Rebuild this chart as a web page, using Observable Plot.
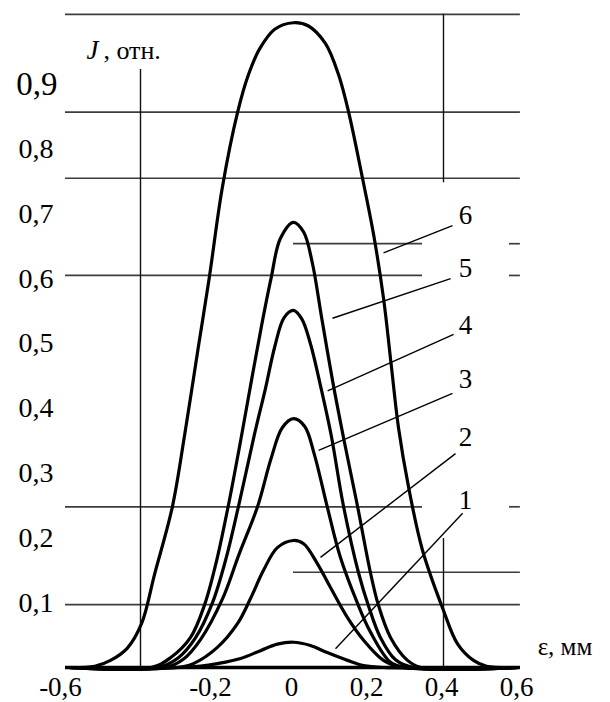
<!DOCTYPE html>
<html>
<head>
<meta charset="utf-8">
<script src="https://cdn.jsdelivr.net/npm/d3@7"></script>
<script src="https://cdn.jsdelivr.net/npm/@observablehq/plot@0.6"></script>
<style>
  html, body { margin: 0; padding: 0; background: #fff; }
  #chart svg { display: block; }
  #chart svg text { font-family: "Liberation Serif", "Times New Roman", "DejaVu Serif", serif; }
</style>
</head>
<body>
<div id="chart"></div>
<script>
// ---- curve data (ε in mm, J relative) ----
const eps1 = [-0.6, -0.3, -0.248, -0.203, -0.141, -0.088, -0.043, 0, 0.045, 0.09, 0.144, 0.187, 0.24, 0.6];
const J1   = [0, 0, 0.002, 0.006, 0.014, 0.026, 0.036, 0.039, 0.034, 0.023, 0.011, 0.003, 0, 0];

const eps2 = [-0.6, -0.31, -0.267, -0.203, -0.149, -0.115, -0.08, -0.043, 0, 0.027, 0.064, 0.099, 0.144, 0.187, 0.24, 0.29, 0.6];
const J2   = [0, 0, 0.006, 0.031, 0.068, 0.106, 0.15, 0.185, 0.196, 0.191, 0.16, 0.123, 0.077, 0.042, 0.011, 0, 0];

const eps3 = [-0.6, -0.34, -0.293, -0.248, -0.19, -0.145, -0.096, -0.06, -0.03, 0, 0.03, 0.055, 0.09, 0.125, 0.17, 0.205, 0.259, 0.3, 0.6];
const J3   = [0, 0, 0.013, 0.043, 0.105, 0.175, 0.248, 0.322, 0.37, 0.384, 0.372, 0.33, 0.248, 0.17, 0.1, 0.055, 0.008, 0, 0];

const eps4 = [-0.6, -0.36, -0.307, -0.261, -0.216, -0.18, -0.147, -0.104, -0.075, -0.05, -0.025, 0, 0.022, 0.045, 0.07, 0.1, 0.133, 0.173, 0.2, 0.232, 0.272, 0.32, 0.6];
const J4   = [0, 0, 0.015, 0.046, 0.1, 0.168, 0.248, 0.36, 0.43, 0.495, 0.54, 0.551, 0.538, 0.5, 0.44, 0.36, 0.25, 0.147, 0.095, 0.046, 0.012, 0, 0];

const eps5 = [-0.6, -0.38, -0.328, -0.275, -0.237, -0.205, -0.172, -0.141, -0.113, -0.085, -0.06, -0.035, 0, 0.027, 0.05, 0.075, 0.105, 0.135, 0.171, 0.205, 0.226, 0.259, 0.304, 0.34, 0.6];
const J5   = [0, 0, 0.015, 0.046, 0.097, 0.165, 0.255, 0.35, 0.44, 0.528, 0.6, 0.662, 0.687, 0.672, 0.625, 0.54, 0.44, 0.35, 0.248, 0.147, 0.097, 0.046, 0.011, 0, 0];

const eps6 = [-0.6, -0.53, -0.488, -0.443, -0.405, -0.37, -0.323, -0.29, -0.255, -0.225, -0.19, -0.149, -0.12, -0.09, -0.05, 0, 0.04, 0.085, 0.12, 0.147, 0.184, 0.213, 0.24, 0.26, 0.28, 0.307, 0.344, 0.4, 0.437, 0.48, 0.515, 0.6];
const J6   = [0, 0.002, 0.011, 0.03, 0.068, 0.145, 0.248, 0.36, 0.49, 0.6, 0.74, 0.857, 0.915, 0.955, 0.985, 0.995, 0.99, 0.963, 0.915, 0.857, 0.755, 0.67, 0.57, 0.47, 0.37, 0.278, 0.181, 0.088, 0.037, 0.011, 0.002, 0];

const curveNames = ["1", "2", "3", "4", "5", "6"];
const curveEps = [eps1, eps2, eps3, eps4, eps5, eps6];
const curveJ = [J1, J2, J3, J4, J5, J6];

// curve number labels and their leader lines
const labelEps = [0.459, 0.459, 0.459, 0.459, 0.459, 0.459];
const labelJ   = [0.258, 0.355, 0.444, 0.528, 0.616, 0.697];
const leaderFromEps = [0.451, 0.432, 0.424, 0.427, 0.419, 0.424];
const leaderFromJ   = [0.238, 0.330, 0.423, 0.514, 0.600, 0.682];
const leaderToEps   = [0.112, 0.072, 0.067, 0.091, 0.104, 0.240];
const leaderToJ     = [0.029, 0.170, 0.335, 0.427, 0.539, 0.640];

// horizontal grid lines of the drawing
const gridJ   = [1.008, 0.857, 0.755, 0.654, 0.605, 0.248, 0.147, 0.097];
const gridEps1 = [-0.608, -0.608, -0.608, 0, -0.608, -0.608, 0, -0.608];
const gridEps2 = [0.605, 0.605, 0.605, 0.344, 0.344, 0.344, 0.605, 0.605];
const stubJ = [0.654, 0.605, 0.248];
const stubEps1 = [0.576, 0.576, 0.576];
const stubEps2 = [0.605, 0.605, 0.605];

// vertical lines
const vEps = [-0.408, 0.4, 0.4];
const vJ1 = [0, 0.748, 0];
const vJ2 = [0.923, 1.008, 0.199];

// tick labels
const yTickValues = [0.1, 0.2, 0.3, 0.4, 0.5, 0.6, 0.7, 0.8];
const yTickLabels = ["0,1", "0,2", "0,3", "0,4", "0,5", "0,6", "0,7", "0,8"];
const yTopValue = [0.9];
const yTopLabel = ["0,9"];
const xTickNegValues = [-0.6, -0.2];
const xTickNegLabels = ["-0,6", "-0,2"];
const xTickPosValues = [0, 0.2, 0.4, 0.6];
const xTickPosLabels = ["0", "0,2", "0,4", "0,6"];

// ---- build tables ----
const curveRows = curveNames.flatMap((name, i) =>
  curveEps[i].map((e, k) => ({eps: e, J: curveJ[i][k], curve: name})));
const labelRows = curveNames.map((name, i) => ({eps: labelEps[i], J: labelJ[i], text: name}));
const leaderRows = curveNames.map((name, i) => ({
  x1: leaderFromEps[i], y1: leaderFromJ[i], x2: leaderToEps[i], y2: leaderToJ[i]}));
const gridRows = gridJ.map((j, i) => ({J: j, x1: gridEps1[i], x2: gridEps2[i]}));
const stubRows = stubJ.map((j, i) => ({J: j, x1: stubEps1[i], x2: stubEps2[i]}));
const vRows = vEps.map((e, i) => ({eps: e, y1: vJ1[i], y2: vJ2[i]}));
const yTickRows = yTickValues.map((v, i) => ({J: v, text: yTickLabels[i]}));
const yTopRows = yTopValue.map((v, i) => ({J: v, text: yTopLabel[i]}));
const xNegRows = xTickNegValues.map((v, i) => ({eps: v, text: xTickNegLabels[i]}));
const xPosRows = xTickPosValues.map((v, i) => ({eps: v, text: xTickPosLabels[i]}));

const serif = "Liberation Serif, Times New Roman, DejaVu Serif, serif";

const chart = Plot.plot({
  width: 610,
  height: 702,
  marginTop: 0, marginRight: 0, marginBottom: 0, marginLeft: 0,
  style: {background: "#fff"},
  x: {domain: [-0.6, 0.6], range: [68, 518], axis: null},
  y: {domain: [0, 1], range: [667, 19], axis: null},
  marks: [
    Plot.ruleY(gridRows, {y: "J", x1: "x1", x2: "x2", stroke: "#3c3c3c", strokeWidth: 1.7}),
    Plot.ruleY(stubRows, {y: "J", x1: "x1", x2: "x2", stroke: "#3c3c3c", strokeWidth: 1.7}),
    Plot.ruleX(vRows, {x: "eps", y1: "y1", y2: "y2", stroke: "#111", strokeWidth: 1.4}),
    Plot.ruleY([0], {x1: -0.608, x2: 0.605, stroke: "#000", strokeWidth: 3.5}),
    Plot.link(leaderRows, {x1: "x1", y1: "y1", x2: "x2", y2: "y2", stroke: "#000", strokeWidth: 1.4}),
    Plot.line(curveRows, {x: "eps", y: "J", z: "curve", stroke: "#000", strokeWidth: 3.2, curve: "catmull-rom"}),
    Plot.text(labelRows, {x: "eps", y: "J", text: "text", fontFamily: serif, fontSize: 27, fill: "#000", textAnchor: "start", dx: -7}),
    Plot.text(yTickRows, {x: () => -0.6, y: "J", text: "text", fontFamily: serif, fontSize: 28, fill: "#000", textAnchor: "end", dx: -15}),
    Plot.text(yTopRows, {x: () => -0.6, y: "J", text: "text", fontFamily: serif, fontSize: 33, fill: "#000", textAnchor: "end", dx: -11}),
    Plot.text(xNegRows, {x: "eps", y: () => 0, text: "text", fontFamily: serif, fontSize: 27, fill: "#000", textAnchor: "middle", dx: -8, dy: 20}),
    Plot.text(xPosRows, {x: "eps", y: () => 0, text: "text", fontFamily: serif, fontSize: 27, fill: "#000", textAnchor: "middle", dx: -2, dy: 20}),
    Plot.text(["ε, мм"], {x: () => 0.651, y: () => 0.031, text: d => d, fontFamily: serif, fontSize: 25, fill: "#000", textAnchor: "start"}),
    Plot.text(["J"], {x: () => -0.552, y: () => 0.952, text: d => d, fontFamily: serif, fontSize: 27, fontStyle: "italic", fill: "#000", textAnchor: "start"}),
    Plot.text([", отн."], {x: () => -0.507, y: () => 0.952, text: d => d, fontFamily: serif, fontSize: 26, fill: "#000", textAnchor: "start"})
  ]
});
document.getElementById("chart").appendChild(chart);
</script>
</body>
</html>
